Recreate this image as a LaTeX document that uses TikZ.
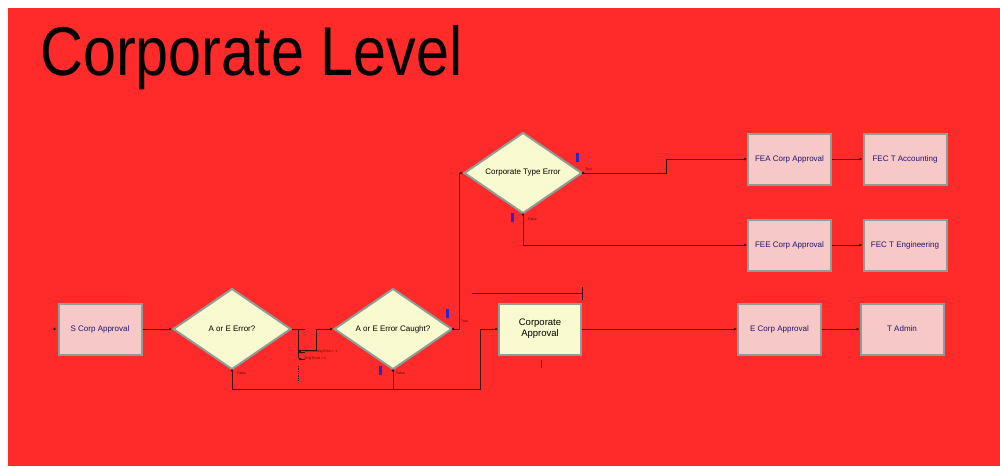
\documentclass[tikz,border=0pt]{standalone}
\usepackage{fontspec}
\setmainfont{Liberation Sans}
\usetikzlibrary{shapes.geometric,arrows.meta}
\definecolor{bgred}{RGB}{255,42,42}
\definecolor{modpink}{RGB}{246,200,200}
\definecolor{decyel}{RGB}{250,250,208}
\definecolor{modedge}{RGB}{140,158,150}
\definecolor{modtext}{RGB}{30,20,110}
\definecolor{linecol}{RGB}{50,15,15}
\definecolor{markblue}{RGB}{40,40,200}

\begin{document}
\begin{tikzpicture}[x=1pt,y=-1pt,
    proc/.style={draw=modedge,line width=2pt,fill=modpink,minimum width=83pt,minimum height=51pt,
      font=\fontsize{8}{9}\selectfont,text=modtext},
    dec/.style={diamond,draw=modedge,line width=2pt,fill=decyel,aspect=1.45,inner sep=1pt,
      minimum width=118pt,minimum height=81pt,font=\fontsize{8}{9}\selectfont},
    conn/.style={draw=linecol,line width=0.7pt},
    arr/.style={conn,-{Latex[length=3pt,width=3pt]}},
    tiny/.style={font=\fontsize{3.5}{4}\selectfont,text=red!40!black,inner sep=0pt}]
    \fill[white] (0,0) rectangle (1000,466);
    \fill[bgred] (8,8) rectangle (1000,466);
    \useasboundingbox (0,0) rectangle (1000,466);
    \node[anchor=base west,inner sep=0pt] (title) at (40,75) {\resizebox{422pt}{50pt}{Corporate Level}};
    % modules
    \node[proc] (scorp) at (100,329) {S Corp Approval};
    \node[dec] (aore) at (232,329) {A or E Error?};
    \node[dec] (aorec) at (393,329) {A or E Error Caught?};
    \node[dec] (cte) at (523,173) {Corporate Type Error};
    \node[proc,fill=decyel,text=black,align=center,font=\fontsize{9.5}{11}\selectfont,
      minimum width=82pt,minimum height=51pt] (corp) at (540,329) {Corporate\\Approval};
    \node[proc] (fea) at (789.5,159) {FEA Corp Approval};
    \node[proc] (feca) at (905,159) {FEC T Accounting};
    \node[proc] (fee) at (789.5,245) {FEE Corp Approval};
    \node[proc] (fece) at (905,245) {FEC T Engineering};
    \node[proc] (ecorp) at (779.5,329) {E Corp Approval};
    \node[proc] (tadm) at (902,329) {T Admin};
    % connectors
    \fill[linecol] (scorp.west) ++(-3,0) circle (1.3);
    \draw[arr] (scorp.east) -- (aore.west);
    \draw[conn] (aore.east) -- ++(13,0);
    \draw[conn] (aore.east) ++(6,0) -- ++(0,29);
    \draw[arr] (aore.east) ++(6,21) -- ++(18,0) |- (aorec.west);
    \node[tiny,anchor=west] (lab1) at (305,352) {Accounting Error = 1};
    \node[tiny,anchor=west] (lab2) at (305,359) {Eng Error = 1};
    \draw[arr] (lab1.west) -- ++(-7,0);
    \draw[arr] (lab2.west) -- ++(-7,0);
    \draw[conn,densely dotted] (298,366) -- (298,380);
    \draw[arr] (aorec.east) -- ++(6,0) |- (cte.west);
    \draw[arr] (cte.east) -- ++(83,0) |- (fea.west);
    \draw[arr] (cte.south) |- (fee.west);
    \draw[arr] (aore.south) -- ++(0,19) -| ([xshift=-18pt]corp.west) -- (corp.west);
    \draw[conn] (aorec.south) -- ++(0,19);
    \fill[linecol] (aore.south) circle (1.3) (aorec.south) circle (1.3) (aorec.east) circle (1.3)
      (cte.east) circle (1.3) (cte.south) circle (1.3);
    \draw[arr] (corp.east) -- (ecorp.west);
    \draw[arr] (fea.east) -- (feca.west);
    \draw[arr] (fee.east) -- (fece.west);
    \draw[arr] (ecorp.east) -- (tadm.west);
    % queue and markers
    \draw[conn] (472,293) -- (582,293);
    \draw[conn] (582,287) -- (582,300);
    \draw[red!50!black,line width=0.8pt] (541,360) -- (541,368);
    \fill[markblue] (446,309) rectangle (448.5,318);
    \fill[markblue] (379,366) rectangle (381.5,375);
    \fill[markblue] (576,153) rectangle (578.5,162);
    \fill[markblue] (511,213) rectangle (513.5,222);
    \node[tiny,anchor=west] (t1) at (461,321) {True};
    \node[tiny,anchor=west] (f1) at (237,373) {False};
    \node[tiny,anchor=west] (f2) at (396,373) {False};
    \node[tiny,anchor=west] (t2) at (585,169) {True};
    \node[tiny,anchor=west] (f3) at (528,219) {False};
\end{tikzpicture}
\end{document}
